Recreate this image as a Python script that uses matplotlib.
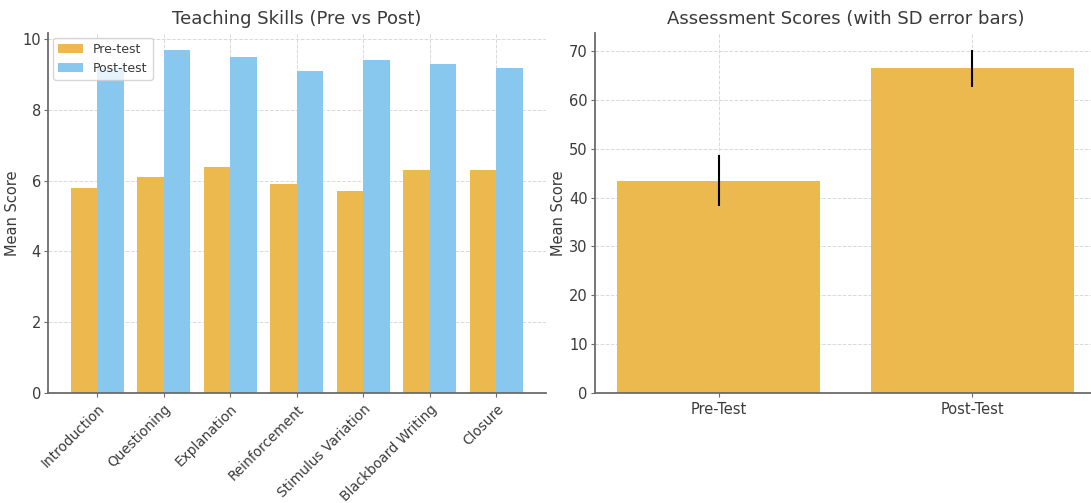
import numpy as np
import matplotlib
matplotlib.use('Agg')
import matplotlib.pyplot as plt

skills = ['Introduction', 'Questioning', 'Explanation', 'Reinforcement',
          'Stimulus Variation', 'Blackboard Writing', 'Closure']
pre_skill = [5.8, 6.1, 6.4, 5.9, 5.7, 6.3, 6.3]
post_skill = [9.2, 9.7, 9.5, 9.1, 9.4, 9.3, 9.2]

tests = ['Pre-Test', 'Post-Test']
test_means = [43.5, 66.5]
test_sd = [5.2, 3.8]

gold = '#EBB94D'
blue = '#89C8EE'
text_col = '#3a3a3a'
spine_col = '#6b6b6b'

plt.rcParams.update({
    'font.family': 'DejaVu Sans',
    'text.color': text_col,
    'axes.labelcolor': text_col,
    'xtick.color': spine_col,
    'ytick.color': spine_col,
    'xtick.labelcolor': text_col,
    'ytick.labelcolor': text_col,
})

fig = plt.figure(figsize=(10.91, 5.03), dpi=100)
ax1 = fig.add_axes([0.044, 0.219, 0.456, 0.716])
ax2 = fig.add_axes([0.545, 0.219, 0.46, 0.716])

x = np.arange(len(skills))
w = 0.4
ax1.bar(x - w / 2, pre_skill, w, color=gold, label='Pre-test')
ax1.bar(x + w / 2, post_skill, w, color=blue, label='Post-test')
ax1.set_xticks(x)
ax1.set_xticklabels(skills, rotation=45, ha='right', rotation_mode='anchor',
                    fontsize=9.8)
ax1.set_ylabel('Mean Score', fontsize=10.5, labelpad=2)
ax1.set_title('Teaching Skills (Pre vs Post)', fontsize=13)
ax1.legend(loc='upper left', fontsize=9, frameon=True, edgecolor='#cccccc',
           handlelength=2.0, borderaxespad=0.4)

ax2.bar(tests, test_means, 0.8, color=gold, yerr=test_sd, ecolor='black',
        error_kw={'elinewidth': 1.5})
ax2.set_ylabel('Mean Score', fontsize=10.5, labelpad=2)
ax2.set_title('Assessment Scores (with SD error bars)', fontsize=13)
ax2.set_yticks(range(0, 80, 10))

for ax in (ax1, ax2):
    ax.spines['top'].set_visible(False)
    ax.spines['right'].set_visible(False)
    for s in ('left', 'bottom'):
        ax.spines[s].set_color(spine_col)
        ax.spines[s].set_linewidth(1.3)
    ax.grid(True, linestyle='--', color='#d9d9d9', linewidth=0.7)
    ax.set_axisbelow(True)
    ax.tick_params(axis='y', labelsize=10.5, length=3, pad=2)
    ax.tick_params(axis='x', length=3)
ax2.tick_params(axis='x', labelsize=10.5)

fig.savefig('out.png', dpi=100)
